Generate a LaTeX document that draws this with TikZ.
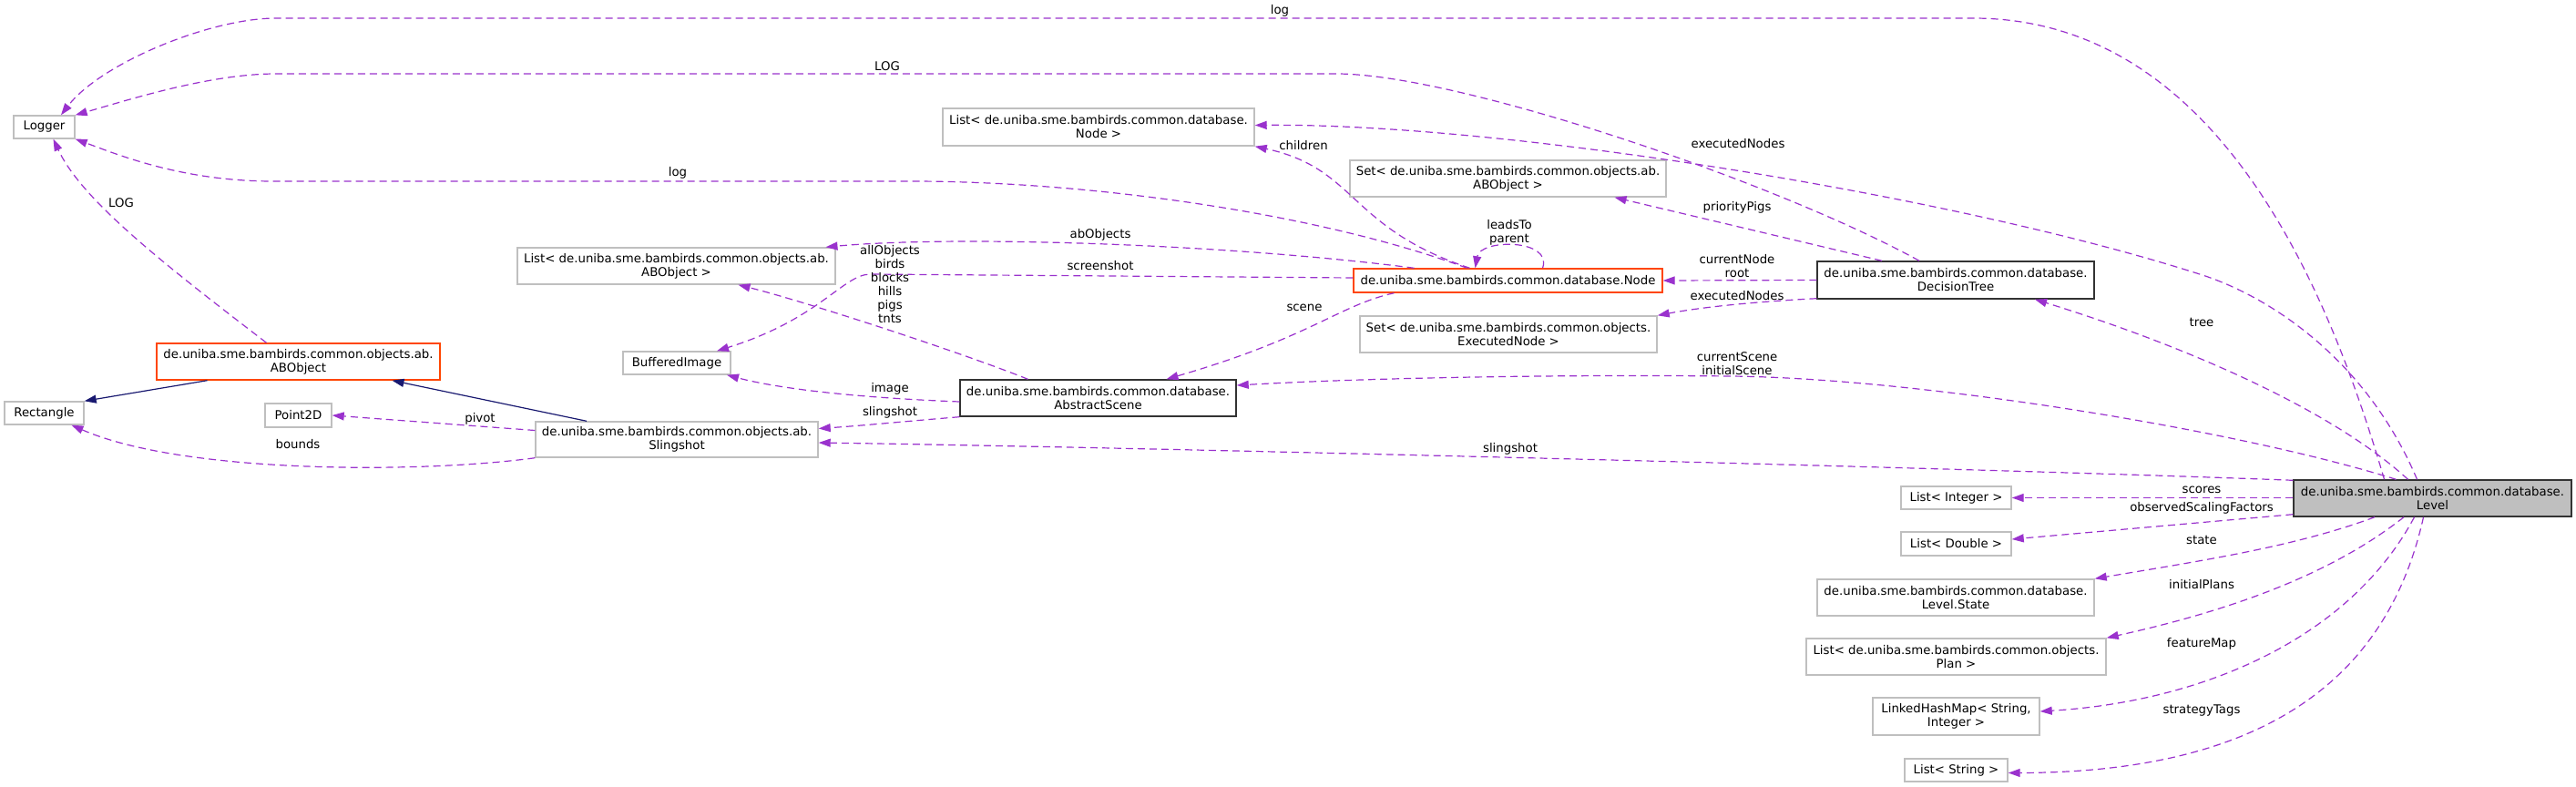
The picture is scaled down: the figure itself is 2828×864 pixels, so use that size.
\documentclass[tikz,border=0pt]{standalone}
\usepackage{fontspec}
\setmainfont{DejaVu Sans}
\usetikzlibrary{arrows.meta}

\definecolor{boxgrey}{HTML}{BFBFBF}
\definecolor{edgepurple}{HTML}{9A32CD}
\definecolor{inheritblue}{HTML}{191970}
\definecolor{truncred}{HTML}{FF4500}
\definecolor{docblack}{HTML}{333333}

\begin{document}
\begin{tikzpicture}[x=1pt, y=-1pt,
    cls/.style={draw=#1, line width=1.4pt, fill=white, inner sep=0pt, align=center,
        font=\fontsize{13.3}{15}\selectfont},
    cls/.default=boxgrey,
    lbl/.style={inner sep=0pt, align=center, font=\fontsize{13.3}{15}\selectfont},
    uses/.style={draw=edgepurple, line width=1.2pt, dash pattern=on 8pt off 5pt,
        -{Triangle[length=13pt, width=9pt]}},
    inherit/.style={draw=inheritblue, line width=1.2pt,
        -{Triangle[length=13pt, width=9pt]}}]

    \useasboundingbox (0,0) rectangle (2828,864);

    % classes, left
    \node[cls, minimum width=67pt, minimum height=25pt] (logger) at (48.5,139.5) {Logger};
    \node[cls, minimum width=87pt, minimum height=25pt] (rect) at (48.5,453.5) {Rectangle};
    \node[cls=truncred, minimum width=311pt, minimum height=40pt] (abobject) at (327.5,397)
        {de.uniba.sme.bambirds.common.objects.ab.\\ABObject};
    \node[cls, minimum width=73pt, minimum height=26pt] (point) at (327.5,456) {Point2D};
    \node[cls, minimum width=310pt, minimum height=39pt] (sling) at (743,482.5)
        {de.uniba.sme.bambirds.common.objects.ab.\\Slingshot};
    \node[cls, minimum width=118pt, minimum height=25pt] (bufimg) at (743,398.5) {BufferedImage};
    \node[cls, minimum width=349pt, minimum height=40pt] (abolist) at (742.5,292)
        {List< de.uniba.sme.bambirds.common.objects.ab.\\ABObject >};

    % classes, middle
    \node[cls, minimum width=342pt, minimum height=41pt] (nodelist) at (1206,139.5)
        {List< de.uniba.sme.bambirds.common.database.\\Node >};
    \node[cls, minimum width=347pt, minimum height=40pt] (aboset) at (1655.5,196)
        {Set< de.uniba.sme.bambirds.common.objects.ab.\\ABObject >};
    \node[cls=truncred, minimum width=339pt, minimum height=26pt] (dbnode) at (1655.5,308)
        {de.uniba.sme.bambirds.common.database.Node};
    \node[cls, minimum width=326pt, minimum height=40pt] (execset) at (1656,367)
        {Set< de.uniba.sme.bambirds.common.objects.\\ExecutedNode >};
    \node[cls=docblack, minimum width=303pt, minimum height=40pt] (scene) at (1205.5,437)
        {de.uniba.sme.bambirds.common.database.\\AbstractScene};

    % classes, right
    \node[cls=docblack, minimum width=304pt, minimum height=41pt] (dtree) at (2147,307.5)
        {de.uniba.sme.bambirds.common.database.\\DecisionTree};
    \node[cls, minimum width=121pt, minimum height=25pt] (intlist) at (2147.5,546.5) {List< Integer >};
    \node[cls, minimum width=121pt, minimum height=26pt] (dbllist) at (2147.5,597) {List< Double >};
    \node[cls, minimum width=304pt, minimum height=40pt] (lvlstate) at (2147,656)
        {de.uniba.sme.bambirds.common.database.\\Level.State};
    \node[cls, minimum width=329pt, minimum height=40pt] (planlist) at (2147.5,721)
        {List< de.uniba.sme.bambirds.common.objects.\\Plan >};
    \node[cls, minimum width=183pt, minimum height=41pt] (featmap) at (2147.5,786.5)
        {LinkedHashMap< String,\\Integer >};
    \node[cls, minimum width=113pt, minimum height=25pt] (strlist) at (2147.5,845.5) {List< String >};
    \node[cls=docblack, fill=boxgrey, minimum width=305pt, minimum height=40pt] (level) at (2670.5,547)
        {de.uniba.sme.bambirds.common.database.\\Level};

    % inheritance
    \draw[inherit] ([xshift=-100pt]abobject.south) -- (rect.north east);
    \draw[inherit] ([xshift=-99pt]sling.north) -- ([xshift=103pt]abobject.south);

    % usage, left part
    \draw[uses] ([xshift=-35pt]abobject.north) .. controls (180,290) and (90,220) .. ([xshift=10pt]logger.south);
    \draw[uses] ([yshift=10pt]sling.west) -- (point.east);
    \draw[uses] (sling.south west) .. controls (460,520) and (200,520) .. ([xshift=30pt]rect.south);
    \draw[uses] ([yshift=-4pt]scene.west) .. controls (950,437) and (860,428) .. ([xshift=55pt]bufimg.south);
    \draw[uses] (scene.south west) .. controls (1000,462) and (950,467) .. ([yshift=12pt]sling.east);
    \draw[uses] ([xshift=-77pt]scene.north) .. controls (1050,385) and (880,330) .. ([xshift=68pt]abolist.south);

    % usage, from Node
    \draw[uses] ([yshift=3pt]dbnode.west) -- (955,301) .. controls (925,302) and (900,350) .. ([xshift=44pt]bufimg.north);
    \draw[uses] ([xshift=-103pt]dbnode.north) .. controls (1350,268) and (1050,258) .. ([xshift=164pt]abolist.north);
    \draw[uses] ([xshift=-45pt]dbnode.north) .. controls (1450,235) and (1200,199) .. (1000,199)
        -- (300,199) .. controls (200,199) and (130,170) .. (logger.south east);
    \draw[uses] ([xshift=-42pt]dbnode.north) .. controls (1480,250) and (1490,185) .. (nodelist.south east);
    \draw[uses] ([xshift=38pt]dbnode.north) .. controls (1705,262) and (1625,262) .. ([xshift=-36pt]dbnode.north);
    \draw[uses] ([xshift=-125pt]dbnode.south) .. controls (1470,335) and (1440,370) .. ([xshift=75pt]scene.north);

    % usage, from DecisionTree
    \draw[uses] (dtree.west) -- (dbnode.east);
    \draw[uses] ([yshift=1pt]dtree.south west) .. controls (1950,330) and (1880,335) .. (execset.north east);
    \draw[uses] ([xshift=-81pt]dtree.north) -- ([xshift=117pt]aboset.south);
    \draw[uses] ([xshift=-40pt]dtree.north) .. controls (1950,200) and (1600,81) .. (1467,81)
        -- (303,81) .. controls (230,81) and (140,110) .. (logger.north east);

    % usage, from Level
    \draw[uses] ([xshift=-53pt]level.north) .. controls (2560,330) and (2440,20) .. (2166,20)
        -- (303,20) .. controls (230,20) and (110,70) .. ([xshift=18.5pt]logger.north);
    \draw[uses] ([xshift=-17pt]level.north) .. controls (2600,400) and (2500,330) .. (2421,303)
        .. controls (2150,215) and (1650,135) .. ([yshift=2pt]nodelist.east);
    \draw[uses] ([xshift=-27pt]level.north) .. controls (2560,450) and (2400,380) .. ([xshift=87pt]dtree.south);
    \draw[uses] ([xshift=-40pt]level.north) .. controls (2450,470) and (2100,415) .. (1900,413)
        .. controls (1700,411) and (1500,415) .. ([yshift=14pt]scene.east);
    \draw[uses] ([yshift=-1pt]level.north west) .. controls (2200,515) and (1300,492) .. ([yshift=-3.5pt]sling.east);
    \draw[uses] ([yshift=0.5pt]level.west) -- (intlist.east);
    \draw[uses] ([yshift=3pt]level.south west) -- ([yshift=5pt]dbllist.east);
    \draw[uses] ([xshift=-63.5pt]level.south) .. controls (2520,600) and (2420,615) .. (lvlstate.north east);
    \draw[uses] ([xshift=-31.5pt]level.south) .. controls (2560,630) and (2450,670) .. (planlist.north east);
    \draw[uses] ([xshift=-20pt]level.south) .. controls (2580,700) and (2420,770) .. ([yshift=5.5pt]featmap.east);
    \draw[uses] ([xshift=-10pt]level.south) .. controls (2620,750) and (2480,848) .. ([yshift=-3pt]strlist.east);

    % edge labels
    \node[lbl] (lLogTop) at (1405,12) {log};
    \node[lbl] (lLogTree) at (974,73) {LOG};
    \node[lbl] (lLogNode) at (744,190) {log};
    \node[lbl] (lLogAb) at (133,223) {LOG};
    \node[lbl] (lPivot) at (527,460) {pivot};
    \node[lbl] (lBounds) at (327,488) {bounds};
    \node[lbl] (lImage) at (977,427) {image};
    \node[lbl] (lSlingA) at (977,453) {slingshot};
    \node[lbl] (lAll) at (977,312) {allObjects\\birds\\blocks\\hills\\pigs\\tnts};
    \node[lbl] (lShot) at (1208,292) {screenshot};
    \node[lbl] (lAbObj) at (1208,258) {abObjects};
    \node[lbl] (lChildren) at (1431,160) {children};
    \node[lbl] (lLoop) at (1657,255) {leadsTo\\parent};
    \node[lbl] (lScene) at (1432,338) {scene};
    \node[lbl] (lCurNode) at (1907,292) {currentNode\\root};
    \node[lbl] (lExecA) at (1907,325) {executedNodes};
    \node[lbl] (lPigs) at (1907,228) {priorityPigs};
    \node[lbl] (lExecB) at (1908,158) {executedNodes};
    \node[lbl] (lTree) at (2417,354) {tree};
    \node[lbl] (lCurScene) at (1907,399) {currentScene\\initialScene};
    \node[lbl] (lSlingB) at (1658,493) {slingshot};
    \node[lbl] (lScores) at (2417,538) {scores};
    \node[lbl] (lScale) at (2417,558) {observedScalingFactors};
    \node[lbl] (lState) at (2417,593) {state};
    \node[lbl] (lPlans) at (2417,642) {initialPlans};
    \node[lbl] (lFeat) at (2417,707) {featureMap};
    \node[lbl] (lTags) at (2417,780) {strategyTags};

\end{tikzpicture}
\end{document}
